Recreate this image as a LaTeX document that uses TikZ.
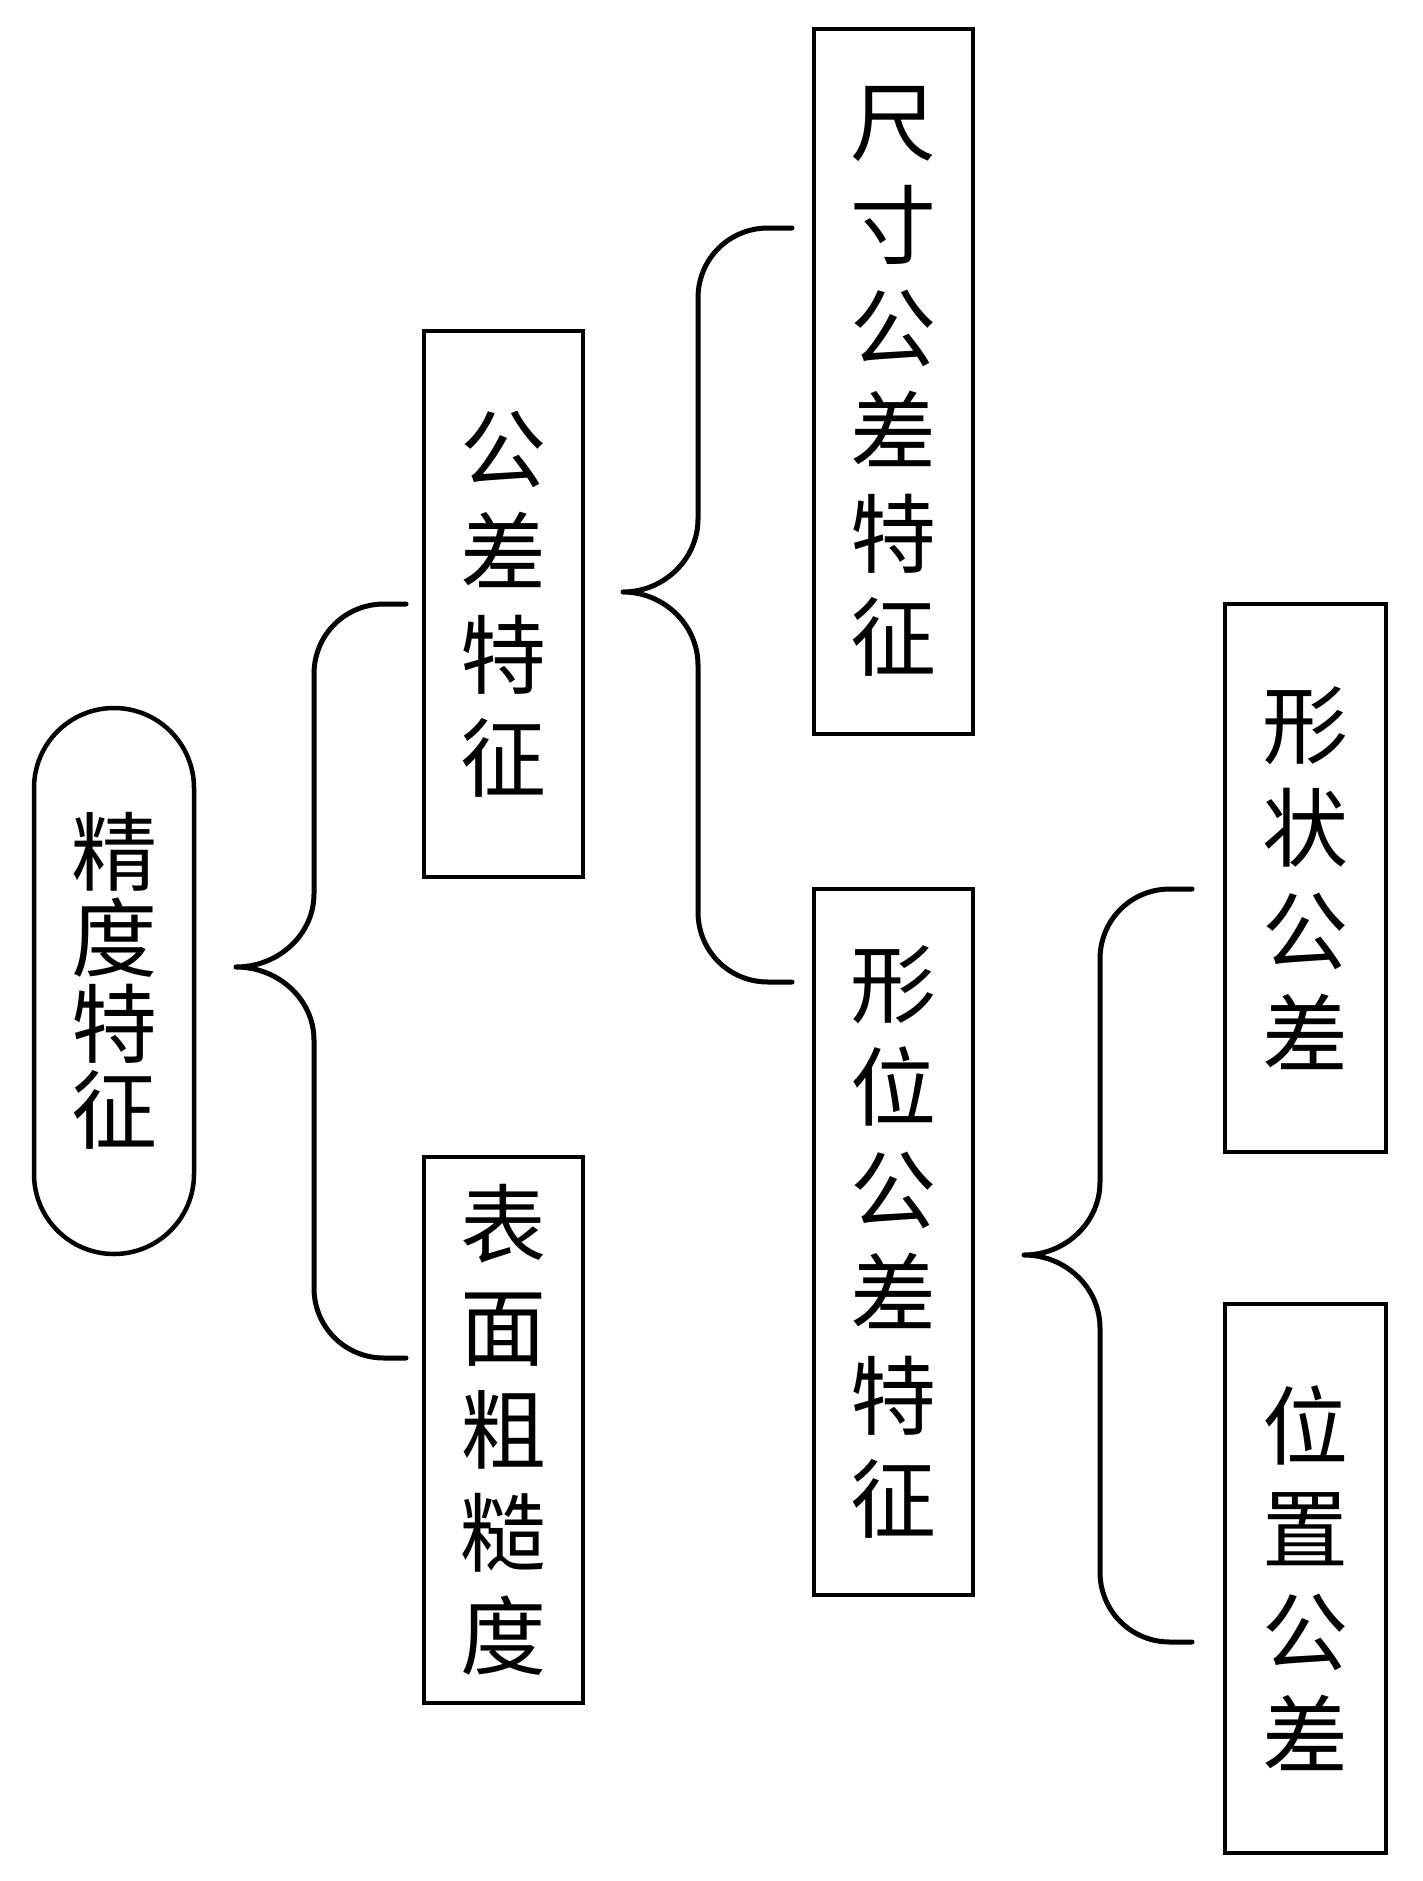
\documentclass[tikz,border=0pt]{standalone}
\usepackage{fontspec}
\newfontfamily\cjk{Noto Sans CJK SC}
\begin{document}
\begin{tikzpicture}[x=1pt,y=-1pt,line width=4.5pt,
  box/.style={draw, rectangle, inner sep=0pt, align=center, minimum width=159pt,
    font=\cjk\fontsize{86}{103}\selectfont},
  rootbox/.style={draw, rectangle, rounded corners=80pt, inner sep=0pt, align=center,
    minimum width=160pt, minimum height=546pt, font=\cjk\fontsize{86}{86}\selectfont},
  brace/.style={draw, line width=5pt, line cap=round, line join=round}]
\useasboundingbox (0,0) rectangle (1423,1881);
\fill[white] (0,0) rectangle (1423,1881);

\node[rootbox] (A) at (114,981) {精\\度\\特\\征};
\node[box, minimum height=546pt] (B) at (503.5,604) {公\\差\\特\\征};
\node[box, minimum height=546pt] (E) at (503.5,1430) {表\\面\\粗\\糙\\度};
\node[box, minimum height=705pt] (C) at (893.5,381.5) {尺\\寸\\公\\差\\特\\征};
\node[box, minimum height=706pt] (D) at (893.5,1242) {形\\位\\公\\差\\特\\征};
\node[box, minimum width=161pt, minimum height=548pt] (F) at (1305.5,878) {形\\状\\公\\差};
\node[box, minimum width=161pt, minimum height=549pt] (G) at (1305.5,1578.5) {位\\置\\公\\差};

% brace 1
\coordinate (b1top) at (406,604);
\coordinate (b1tip) at (236,967);
\coordinate (b1bot) at (406,1358);
\draw[brace] (b1top) -- (384,604) .. controls (345,604) and (314,635) .. (314,674)
  -- (314,894) .. controls (314,934) and (279,967) .. (b1tip)
  .. controls (279,967) and (314,1000) .. (314,1040)
  -- (314,1288) .. controls (314,1327) and (345,1358) .. (384,1358) -- (b1bot);

% brace 2
\coordinate (b2top) at (792,228);
\coordinate (b2tip) at (623,592);
\coordinate (b2bot) at (792,982);
\draw[brace] (b2top) -- (768,228) .. controls (729,228) and (698,259) .. (698,298)
  -- (698,519) .. controls (698,559) and (664,592) .. (b2tip)
  .. controls (664,592) and (698,625) .. (698,665)
  -- (698,912) .. controls (698,951) and (729,982) .. (768,982) -- (b2bot);

% brace 3
\coordinate (b3top) at (1192,889);
\coordinate (b3tip) at (1024,1255);
\coordinate (b3bot) at (1192,1642);
\draw[brace] (b3top) -- (1170,889) .. controls (1131,889) and (1100,920) .. (1100,959)
  -- (1100,1182) .. controls (1100,1222) and (1066,1255) .. (b3tip)
  .. controls (1066,1255) and (1100,1288) .. (1100,1328)
  -- (1100,1572) .. controls (1100,1611) and (1131,1642) .. (1170,1642) -- (b3bot);
\end{tikzpicture}
\end{document}
